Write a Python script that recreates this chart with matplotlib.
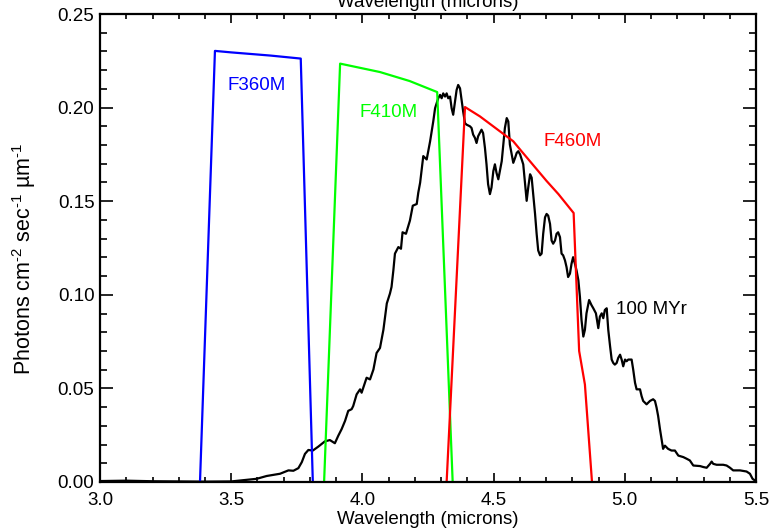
import matplotlib
matplotlib.use("Agg")
import matplotlib.pyplot as plt
from matplotlib.ticker import MultipleLocator

plt.rcParams["font.family"] = ["Liberation Sans", "DejaVu Sans"]
plt.rcParams["mathtext.fontset"] = "custom"
plt.rcParams["mathtext.rm"] = "Liberation Sans"
plt.rcParams["mathtext.default"] = "regular"

# 100 MYr model spectrum (wavelength in microns, photons cm-2 s-1 um-1)
spec_wave = [3.000, 3.100, 3.200, 3.300, 3.400, 3.500, 3.597, 3.635, 3.686, 3.718,
             3.737, 3.756, 3.769, 3.781, 3.794, 3.811, 3.832, 3.857, 3.876, 3.895,
             3.908, 3.921, 3.934, 3.946, 3.959, 3.965, 3.978, 3.991, 3.997, 4.016,
             4.029, 4.042, 4.054, 4.067, 4.080, 4.093, 4.105, 4.111, 4.118, 4.124,
             4.137, 4.147, 4.153, 4.166, 4.181, 4.192, 4.207, 4.213, 4.220, 4.232,
             4.245, 4.258, 4.264, 4.270, 4.277, 4.283, 4.289, 4.296, 4.302, 4.308,
             4.315, 4.321, 4.327, 4.334, 4.340, 4.346, 4.353, 4.359, 4.365, 4.372,
             4.378, 4.384, 4.391, 4.397, 4.410, 4.416, 4.422, 4.429, 4.435, 4.441,
             4.454, 4.460, 4.467, 4.473, 4.479, 4.486, 4.492, 4.499, 4.505, 4.511,
             4.518, 4.524, 4.531, 4.537, 4.543, 4.550, 4.556, 4.562, 4.569, 4.575,
             4.582, 4.588, 4.594, 4.601, 4.607, 4.613, 4.620, 4.626, 4.632, 4.639,
             4.645, 4.651, 4.658, 4.664, 4.670, 4.677, 4.683, 4.689, 4.696, 4.702,
             4.708, 4.715, 4.721, 4.727, 4.734, 4.740, 4.746, 4.753, 4.759, 4.765,
             4.772, 4.778, 4.784, 4.791, 4.797, 4.803, 4.810, 4.816, 4.823, 4.829,
             4.835, 4.842, 4.848, 4.854, 4.864, 4.873, 4.880, 4.890, 4.899, 4.905,
             4.912, 4.918, 4.924, 4.931, 4.937, 4.944, 4.950, 4.956, 4.962, 4.969,
             4.975, 4.982, 4.988, 4.994, 5.001, 5.007, 5.013, 5.026, 5.032, 5.039,
             5.045, 5.058, 5.064, 5.070, 5.083, 5.096, 5.108, 5.115, 5.121, 5.127,
             5.134, 5.140, 5.146, 5.153, 5.165, 5.178, 5.191, 5.204, 5.223, 5.236,
             5.248, 5.261, 5.287, 5.299, 5.312, 5.325, 5.331, 5.337, 5.350, 5.375,
             5.388, 5.401, 5.413, 5.439, 5.464, 5.477, 5.487, 5.496]
spec_flux = [0.0005, 0.0007, 0.0004, 0.0003, 0.0002, 0.0003, 0.0017, 0.0032, 0.0044, 0.0062,
             0.0060, 0.0074, 0.0106, 0.0150, 0.0171, 0.0168, 0.0189, 0.0217, 0.0224, 0.0207,
             0.0247, 0.0283, 0.0327, 0.0380, 0.0389, 0.0406, 0.0468, 0.0495, 0.0477, 0.0557,
             0.0548, 0.0601, 0.0689, 0.0716, 0.0813, 0.0954, 0.1007, 0.1042, 0.1131, 0.1220,
             0.1255, 0.1246, 0.1334, 0.1326, 0.1396, 0.1476, 0.1485, 0.1546, 0.1599, 0.1741,
             0.1723, 0.1820, 0.1873, 0.1926, 0.1997, 0.2023, 0.2050, 0.2068, 0.2050, 0.2076,
             0.2059, 0.2076, 0.2050, 0.2059, 0.1997, 0.1962, 0.2032, 0.2094, 0.2121, 0.2103,
             0.2041, 0.1979, 0.1917, 0.1909, 0.1900, 0.1891, 0.1856, 0.1838, 0.1811, 0.1847,
             0.1882, 0.1864, 0.1785, 0.1697, 0.1591, 0.1538, 0.1573, 0.1661, 0.1697, 0.1652,
             0.1617, 0.1661, 0.1714, 0.1803, 0.1891, 0.1944, 0.1926, 0.1803, 0.1750, 0.1705,
             0.1732, 0.1758, 0.1767, 0.1750, 0.1723, 0.1697, 0.1591, 0.1502, 0.1573, 0.1644,
             0.1626, 0.1538, 0.1432, 0.1326, 0.1237, 0.1211, 0.1220, 0.1326, 0.1414, 0.1432,
             0.1423, 0.1379, 0.1290, 0.1273, 0.1290, 0.1326, 0.1334, 0.1308, 0.1220, 0.1211,
             0.1184, 0.1148, 0.1095, 0.1113, 0.1166, 0.1201, 0.1166, 0.1131, 0.1078, 0.0989,
             0.0866, 0.0777, 0.0813, 0.0901, 0.0972, 0.0945, 0.0928, 0.0901, 0.0822, 0.0883,
             0.0901, 0.0875, 0.0919, 0.0928, 0.0813, 0.0724, 0.0654, 0.0636, 0.0627, 0.0636,
             0.0663, 0.0680, 0.0654, 0.0618, 0.0654, 0.0645, 0.0654, 0.0654, 0.0601, 0.0530,
             0.0495, 0.0495, 0.0459, 0.0433, 0.0415, 0.0433, 0.0442, 0.0433, 0.0398, 0.0353,
             0.0283, 0.0230, 0.0177, 0.0194, 0.0177, 0.0168, 0.0168, 0.0141, 0.0133, 0.0124,
             0.0115, 0.0088, 0.0085, 0.0080, 0.0076, 0.0097, 0.0109, 0.0097, 0.0092, 0.0092,
             0.0088, 0.0076, 0.0062, 0.0062, 0.0056, 0.0044, 0.0017, 0.0008]

# filter throughput curves (scaled to the same axis)
f360_wave = [3.381, 3.438, 3.500, 3.650, 3.765, 3.811]
f360_thru = [0.0, 0.2303, 0.2295, 0.2278, 0.2262, 0.0]

f410_wave = [3.854, 3.915, 4.067, 4.180, 4.285, 4.344]
f410_thru = [0.0, 0.2235, 0.2190, 0.2142, 0.2083, 0.0]

f460_wave = [4.321, 4.391, 4.448, 4.575, 4.601, 4.702, 4.747, 4.805, 4.826, 4.848, 4.875]
f460_thru = [0.0, 0.2003, 0.1953, 0.1820, 0.1776, 0.1608, 0.1538, 0.1437, 0.0700, 0.0521, 0.0]

fig = plt.figure(figsize=(7.7, 5.31), dpi=100)
ax = fig.add_axes([0.1299, 0.0923, 0.8519, 0.8813])

ax.plot(spec_wave, spec_flux, color="black", lw=1.6)
ax.plot(f360_wave, f360_thru, color="#0000ff", lw=1.6)
ax.plot(f410_wave, f410_thru, color="#00ff00", lw=1.6)
ax.plot(f460_wave, f460_thru, color="#ff0000", lw=1.6)

ax.text(3.598, 0.2117, "F360M", color="#0000ff", fontsize=13.5, ha="center", va="center")
ax.text(4.098, 0.1974, "F410M", color="#00ff00", fontsize=13.5, ha="center", va="center")
ax.text(4.803, 0.1820, "F460M", color="#ff0000", fontsize=13.5, ha="center", va="center")
ax.text(5.100, 0.0924, "100 MYr", color="black", fontsize=13.5, ha="center", va="center")

ax.set_xlim(3.0, 5.5)
ax.set_ylim(0.0, 0.25)
ax.xaxis.set_major_locator(MultipleLocator(0.5))
ax.xaxis.set_minor_locator(MultipleLocator(0.1))
ax.yaxis.set_major_locator(MultipleLocator(0.05))
ax.yaxis.set_minor_locator(MultipleLocator(0.01))
ax.xaxis.set_major_formatter(lambda v, p: f"{v:.1f}")
ax.yaxis.set_major_formatter(lambda v, p: f"{v:.2f}")

ax.tick_params(which="both", direction="in", top=True, right=True, width=1.2,
               labelsize=13.5)
ax.tick_params(axis="x", which="major", length=6.8, pad=7)
ax.tick_params(axis="x", which="minor", length=3.4)
ax.tick_params(axis="y", which="major", length=9.4, pad=4)
ax.tick_params(axis="y", which="minor", length=4.7)
for s in ax.spines.values():
    s.set_linewidth(1.6)

# axis titles, the top one sits partly off the canvas
fig.text(0.556, 1 - 7 / 531, "Wavelength (microns)", fontsize=13.5, ha="center", va="baseline")
fig.text(0.556, 1 - 524 / 531, "Wavelength (microns)", fontsize=13.5, ha="center", va="baseline")
fig.text(0.031, 1 - 259 / 531,
         r"Photons cm$^{\text{-2}}$ sec$^{\text{-1}}$ µm$^{\text{-1}}$", fontsize=15.5,
         rotation=90, ha="center", va="center")

fig.savefig("out.png", dpi=100)
